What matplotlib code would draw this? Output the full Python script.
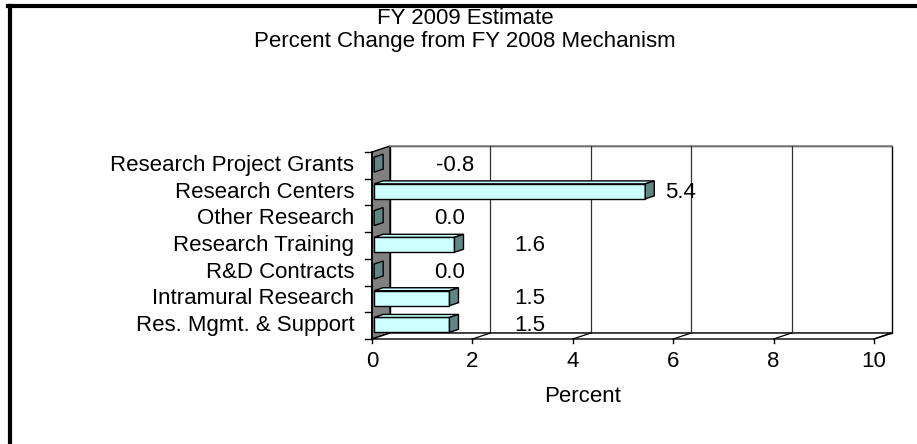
import numpy as np
import matplotlib
matplotlib.use("Agg")
import matplotlib.pyplot as plt
from matplotlib.patches import Polygon
from matplotlib.lines import Line2D

plt.rcParams['font.family'] = ['Liberation Sans', 'DejaVu Sans']

# datos
categorias = ["Research Project Grants", "Research Centers", "Other Research",
              "Research Training", "R&D Contracts", "Intramural Research",
              "Res. Mgmt. & Support"]
valores = [-0.8, 5.4, 0.0, 1.6, 0.0, 1.5, 1.5]
etiquetas = ["-0.8", "5.4", "0.0", "1.6", "0.0", "1.5", "1.5"]
xticks = [0, 2, 4, 6, 8, 10]

# desplazamiento de las etiquetas (como en Excel)
offs = [1.65, 0.75, 1.55, 1.55, 1.55, 1.65, 1.65]

fig = plt.figure(figsize=(9.17, 4.44), dpi=100)
ax = fig.add_axes([372 / 917, 1 - 339 / 444, 502 / 917, 187 / 444])
ax.set_xlim(0, 10)
ax.set_ylim(-0.5, 6.5)
ax.axis('off')

n = len(categorias)
ypos = np.arange(n)[::-1]  # primera categoria arriba

# profundidad 3D en unidades de datos
DX = 18 / 50.2
DY = 6 / 26.7
ymin, ymax = -0.5, 6.5
kw = dict(clip_on=False)

# pared del fondo
ax.add_patch(Polygon([(DX, ymin + DY), (10 + DX, ymin + DY), (10 + DX, ymax + DY),
                      (DX, ymax + DY)], closed=True, facecolor='white',
                     edgecolor='black', lw=1.0, **kw))
ax.plot([DX, 10 + DX], [ymax + DY, ymax + DY], color='#888888', lw=1.2, **kw)
for t in xticks[1:-1]:
    ax.plot([t + DX, t + DX], [ymin + DY, ymax + DY], color='#333333', lw=0.9, **kw)
# pared izquierda
ax.add_patch(Polygon([(0, ymin), (DX, ymin + DY), (DX, ymax + DY), (0, ymax)],
                     closed=True, facecolor='#808080', edgecolor='black', lw=1.0, **kw))
# piso
ax.add_patch(Polygon([(0, ymin), (10, ymin), (10 + DX, ymin + DY), (DX, ymin + DY)],
                     closed=True, facecolor='white', edgecolor='black', lw=1.0, **kw))
for t in xticks[1:]:
    ax.plot([t, t + DX], [ymin, ymin + DY], color='black', lw=0.9, **kw)

# barras 3D
h = 0.28
d0, d1 = 0.12, 0.62
for y, v in zip(ypos, valores):
    v = max(v, 0)
    fx, fy = d0 * DX, d0 * DY
    bx, by = d1 * DX, d1 * DY
    if v > 0:
        # cara frontal
        ax.add_patch(Polygon([(fx, y - h + fy), (v + fx, y - h + fy), (v + fx, y + h + fy),
                              (fx, y + h + fy)], closed=True, facecolor='#CCFFFF',
                             edgecolor='black', lw=1.0, zorder=3, **kw))
        # cara superior
        ax.add_patch(Polygon([(fx, y + h + fy), (v + fx, y + h + fy), (v + bx, y + h + by),
                              (bx, y + h + by)], closed=True, facecolor='#CCFFFF',
                             edgecolor='black', lw=1.0, zorder=3, **kw))
    # tapa del extremo
    ax.add_patch(Polygon([(v + fx, y - h + fy), (v + bx, y - h + by), (v + bx, y + h + by),
                          (v + fx, y + h + fy)], closed=True, facecolor='#5F8585',
                         edgecolor='black', lw=1.0, zorder=3, **kw))

# eje frontal
ax.plot([0, 0], [ymin, ymax], color='black', lw=1.2, zorder=4, **kw)
for b in np.arange(ymin, ymax + 0.01, 1):
    ax.plot([-0.13, 0], [b, b], color='black', lw=1.0, **kw)
for t in xticks:
    ax.plot([t, t], [ymin, ymin - 0.15], color='black', lw=1.0, **kw)
    ax.text(t, ymin - 0.45, str(t), ha='center', va='top', fontsize=16, **kw)

for y, c in zip(ypos, categorias):
    ax.text(-0.35, y, c, ha='right', va='center', fontsize=16, **kw)

for y, v, e, o in zip(ypos, valores, etiquetas, offs):
    ax.text(max(v, 0) + o, y, e, ha='center', va='center', fontsize=16, zorder=5, **kw)

ax.text(0.42, -0.31, "Percent", transform=ax.transAxes, ha='center', va='center',
        fontsize=16)

fig.text(465 / 917, 1 - 18 / 444, "FY 2009 Estimate", ha='center', va='center', fontsize=16)
fig.text(465 / 917, 1 - 41 / 444, "Percent Change from FY 2008 Mechanism", ha='center',
         va='center', fontsize=16)

# borde
fig.add_artist(Line2D([9.5 / 917, 9.5 / 917], [0, 1 - 6 / 444], transform=fig.transFigure,
                      color='black', lw=3))
fig.add_artist(Line2D([8 / 917, 1], [1 - 6 / 444, 1 - 6 / 444], transform=fig.transFigure,
                      color='black', lw=3))

fig.savefig("out.png", dpi=100)
